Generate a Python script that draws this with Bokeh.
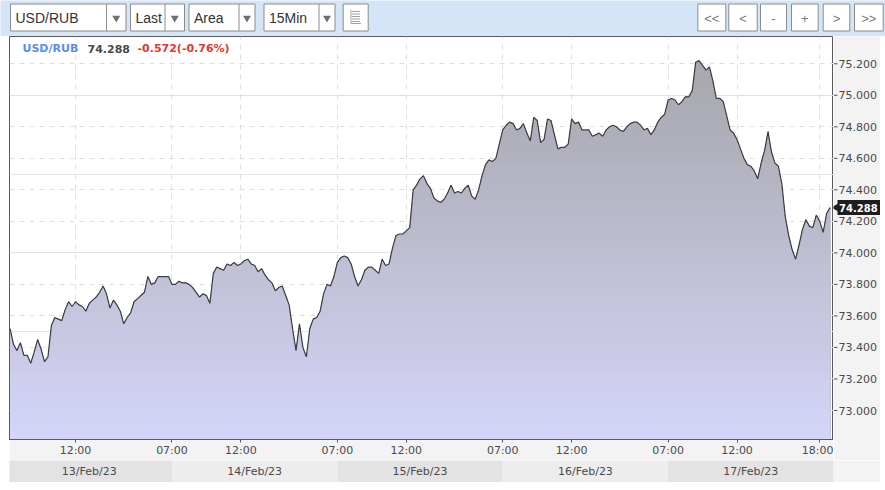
import numpy as np
from bokeh.plotting import figure
from bokeh.layouts import column, row
from bokeh.models import Range1d, FixedTicker, Label, Grid, Spacer
from bokeh.core.properties import value
from bokeh.embed import file_html
from bokeh.resources import INLINE

# ---------------- data ----------------
symbol = "USD/RUB"
last_price = 74.288
change_text = "-0.572(-0.76%)"
bar_minutes = 15
session_open_hour = 7          # each session 07:00 - 19:00
session_hours = 12
first_bar = 1                  # first bar = 13 Feb 07:15 (bars counted from 07:00)
prices = [
    73.52, 73.42, 73.38, 73.43, 73.35, 73.35, 73.30, 73.37, 73.45, 73.39,
    73.31, 73.34, 73.54, 73.59, 73.58, 73.57, 73.64, 73.69, 73.66, 73.69,
    73.67, 73.66, 73.63, 73.68, 73.70, 73.72, 73.75, 73.79, 73.74, 73.65,
    73.70, 73.67, 73.63, 73.55, 73.59, 73.62, 73.69, 73.71, 73.73, 73.75,
    73.85, 73.80, 73.81, 73.85, 73.85, 73.85, 73.85, 73.80, 73.80, 73.82,
    73.81, 73.81, 73.80, 73.78, 73.75, 73.72, 73.74, 73.73, 73.68, 73.87,
    73.91, 73.90, 73.89, 73.93, 73.92, 73.94, 73.92, 73.93, 73.95, 73.96,
    73.93, 73.92, 73.88, 73.90, 73.86, 73.83, 73.81, 73.76, 73.78, 73.79,
    73.73, 73.67, 73.52, 73.38, 73.55, 73.40, 73.34, 73.52, 73.58, 73.59,
    73.63, 73.74, 73.80, 73.79, 73.85, 73.94, 73.97, 73.98, 73.97, 73.93,
    73.85, 73.79, 73.83, 73.89, 73.91, 73.91, 73.89, 73.87, 73.96, 73.92,
    73.93, 74.03, 74.11, 74.12, 74.12, 74.14, 74.16, 74.40, 74.43, 74.47,
    74.49, 74.44, 74.41, 74.35, 74.33, 74.32, 74.34, 74.38, 74.43, 74.38,
    74.39, 74.38, 74.41, 74.43, 74.36, 74.34, 74.40, 74.49, 74.56, 74.59,
    74.58, 74.60, 74.69, 74.78, 74.81, 74.83, 74.82, 74.78, 74.79, 74.82,
    74.76, 74.71, 74.86, 74.84, 74.70, 74.72, 74.85, 74.84, 74.75, 74.66,
    74.67, 74.67, 74.69, 74.85, 74.82, 74.83, 74.78, 74.78, 74.78, 74.74,
    74.75, 74.76, 74.74, 74.78, 74.80, 74.81, 74.80, 74.78, 74.77, 74.80,
    74.82, 74.83, 74.83, 74.81, 74.78, 74.79, 74.75, 74.78, 74.83, 74.86,
    74.88, 74.97, 74.98, 74.97, 74.94, 74.96, 74.99, 74.99, 75.03, 75.21,
    75.22, 75.19, 75.16, 75.18, 75.09, 74.98, 74.98, 74.96, 74.87, 74.78,
    74.76, 74.72, 74.66, 74.60, 74.56, 74.55, 74.52, 74.47, 74.57, 74.65,
    74.77, 74.64, 74.57, 74.55, 74.44, 74.23, 74.11, 74.02, 73.96, 74.05,
    74.15, 74.21, 74.17, 74.16, 74.24, 74.20, 74.13, 74.25, 74.288,
]
session_days = ["13/Feb/23", "14/Feb/23", "15/Feb/23", "16/Feb/23", "17/Feb/23"]
tick_day = [0, 1, 1, 2, 2, 3, 3, 4, 4, 4]
tick_hour = [12, 7, 12, 7, 12, 7, 12, 7, 12, 18]
y_ticks = [73.0, 73.2, 73.4, 73.6, 73.8, 74.0, 74.2, 74.4, 74.6, 74.8, 75.0, 75.2]
select_labels = ["USD/RUB", "Last", "Area", "15Min"]
nav_labels = ["<<", "<", "-", "+", ">", ">>"]

# ---------------- derived ----------------
bars_per_hour = 60 / bar_minutes
x = (first_bar + np.arange(len(prices))) / bars_per_hour
y = np.array(prices)
tick_x = [d * session_hours + (h - session_open_hour) for d, h in zip(tick_day, tick_hour)]
tick_text = {tx: f"{h:02d}:00" for tx, h in zip(tick_x, tick_hour)}
y_tick_text = [f"{v:.3f}" for v in y_ticks]
n_days = len(session_days)
x_lo, x_hi = 0.21, n_days * session_hours
y_lo, y_hi = 72.816, 75.373

BG = "#d3e5f7"
PANEL = "#f3f3f3"
AXC = "#5a5a5a"
LBL = "#4a4a4a"
FONT = "DejaVu Sans"

# ---------------- toolbar ----------------
tb = figure(width=885, height=36, x_range=Range1d(0, 885), y_range=Range1d(36, 0),
            output_backend="svg", toolbar_location=None, x_axis_type=None, y_axis_type=None,
            min_border=0, outline_line_color=None)
tb.background_fill_color = BG
tb.border_fill_color = BG
tb.grid.visible = False
sel_left = [10, 130, 188.5, 263.5]
sel_right = [125.5, 184, 254.5, 334.5]
sel_div = [106, 164.5, 238.5, 318.5]
top, bot = 3.5, 30.5
tb.quad(left=sel_left, right=sel_right, top=top, bottom=bot, fill_color="white", line_color="#8c8c8c")
tb.segment(x0=sel_div, y0=top, x1=sel_div, y1=bot, line_color="#8c8c8c")
tb.text(x=[l + 5 for l in sel_left], y=17.5, text=select_labels, text_font=value("Liberation Sans"),
        text_font_size=value("14px"), text_color="#333333", text_baseline="middle")
tb.scatter(x=[(d + r) / 2 for d, r in zip(sel_div, sel_right)], y=17.5, marker="inverted_triangle",
           size=8, fill_color="#707070", line_color=None)
# list icon button
tb.quad(left=[342.7], right=[367.7], top=top, bottom=bot, fill_color="white", line_color="#8c8c8c")
tb.segment(x0=[351.5] * 5, y0=[11, 13.5, 16, 18.5, 21], x1=[359.5] * 5, y1=[11, 13.5, 16, 18.5, 21],
           line_color="#a0a0a0")
tb.segment(x0=[350.5, 350.5], y0=[9.5, 23], x1=[350.5, 360.5], y1=[23, 23], line_color="#a0a0a0")
nav_left = [697.3, 728.3, 760, 791, 822.7, 854]
nav_right = [725.3, 756.7, 786, 817.7, 849.3, 882.7]
tb.quad(left=nav_left, right=nav_right, top=top, bottom=bot, fill_color="white", line_color="#8c8c8c")
tb.text(x=[(l + r) / 2 for l, r in zip(nav_left, nav_right)], y=17.5, text=nav_labels,
        text_font=value("Liberation Sans"), text_font_size=value("13px"), text_color="#7a7a7a",
        text_align="center", text_baseline="middle")

# ---------------- main chart ----------------
p = figure(width=824, height=424, x_range=Range1d(x_lo, x_hi), y_range=Range1d(y_lo, y_hi),
           y_axis_location=None, output_backend="svg", toolbar_location=None,
           min_border_left=0, min_border_right=0, min_border_top=0, min_border_bottom=21)
p.background_fill_color = "white"
p.border_fill_color = PANEL
p.outline_line_color = AXC

# vertical gradient fill (grey at top -> lavender at bottom)
c_top = np.array([0xa4, 0xa4, 0xa7])
c_bot = np.array([0xd5, 0xd5, 0xfa])
n_steps = 48
levels = np.linspace(y_hi, y_lo, n_steps, endpoint=False)
for lv in levels:
    f = (lv - y_lo) / (y_hi - y_lo)
    c = (c_bot + (c_top - c_bot) * f).round().astype(int)
    col = "#%02x%02x%02x" % tuple(c)
    p.varea(x=x, y1=y_lo, y2=np.minimum(y, lv), fill_color=col)

p.line(x, y, line_color="#3c3c44", line_width=1.2)

xa = p.xaxis[0]
xa.ticker = FixedTicker(ticks=tick_x)
xa.major_label_overrides = tick_text
xa.axis_line_color = AXC
xa.major_tick_line_color = AXC
xa.major_tick_in = 0
xa.major_tick_out = 3
xa.minor_tick_line_color = None
xa.major_label_standoff = 1
xa.major_label_text_font = FONT
xa.major_label_text_font_size = "11px"
xa.major_label_text_color = LBL

p.xgrid.ticker = FixedTicker(ticks=tick_x)
p.xgrid.grid_line_color = "#dedede"
p.xgrid.grid_line_dash = "5 5"
p.add_layout(Grid(dimension=1, ticker=FixedTicker(ticks=y_ticks), grid_line_color="#dedede",
                  grid_line_dash="5 5"))

# header
hy = 391
p.add_layout(Label(x=13, y=hy, x_units="screen", y_units="screen", text=symbol, text_font=FONT,
                   text_font_style="bold", text_font_size="11px", text_color="#5b8def",
                   text_baseline="middle"))
p.add_layout(Label(x=78, y=hy, x_units="screen", y_units="screen", text=f"{last_price:.3f}",
                   text_font=FONT, text_font_style="bold", text_font_size="11px",
                   text_color=LBL, text_baseline="middle"))
p.add_layout(Label(x=128, y=hy, x_units="screen", y_units="screen", text=change_text,
                   text_font=FONT, text_font_style="bold", text_font_size="11px",
                   text_color="#e0392b", text_baseline="middle"))

# ---------------- right price scale ----------------
r = figure(width=47, height=424, x_range=Range1d(0, 47), y_range=p.y_range, output_backend="svg",
           toolbar_location=None, x_axis_type=None, y_axis_type=None,
           min_border_left=0, min_border_right=0, min_border_top=0, min_border_bottom=21,
           outline_line_color=None)
r.grid.visible = False
r.background_fill_color = PANEL
r.border_fill_color = PANEL
r.segment(x0=0, y0=y_ticks, x1=4, y1=y_ticks, line_color=AXC, line_width=1)
r.text(x=5, y=y_ticks, text=y_tick_text, text_font=value(FONT), text_font_size=value("11px"),
       text_color=LBL, text_baseline="middle")
r.scatter(x=[2.5], y=[last_price], marker="triangle", angle=np.pi / 2, size=8,
          fill_color="#1e1e1e", line_color=None)
r.rect(x=[25.5], y=[last_price], width=43, height=15, width_units="screen", height_units="screen",
       fill_color="#1e1e1e", line_color=None)
r.text(x=[5.5], y=[last_price], text=[f"{last_price:.3f}"], text_font=value(FONT),
       text_font_style="bold", text_font_size=value("10px"), text_color="white", text_baseline="middle")

# ---------------- date bands ----------------
b = figure(width=871, height=22, x_range=p.x_range, y_range=Range1d(0, 1), output_backend="svg",
           toolbar_location=None, x_axis_type=None, y_axis_type=None,
           min_border_left=0, min_border_right=47, min_border_top=0, min_border_bottom=0,
           outline_line_color=None)
b.grid.visible = False
b.background_fill_color = PANEL
b.border_fill_color = PANEL
day_idx = np.arange(n_days)
b.quad(left=day_idx * session_hours, right=(day_idx + 1) * session_hours, top=1, bottom=0,
       fill_color=["#e3e3e3" if d % 2 == 0 else "#ededed" for d in day_idx], line_color=None)
b.text(x=day_idx * session_hours + session_hours / 2, y=0.5, text=session_days,
       text_font=value(FONT), text_font_size=value("11px"), text_color=LBL,
       text_align="center", text_baseline="middle")

layout = column(
    tb,
    row(Spacer(width=9, height=424), p, r, spacing=0),
    row(Spacer(width=9, height=22), b, spacing=0),
    spacing=0,
)
html = file_html(layout, INLINE)
html = html.replace("<body>", '<body style="background-color:%s;">' % BG, 1)
open("out.html", "w").write(html)
